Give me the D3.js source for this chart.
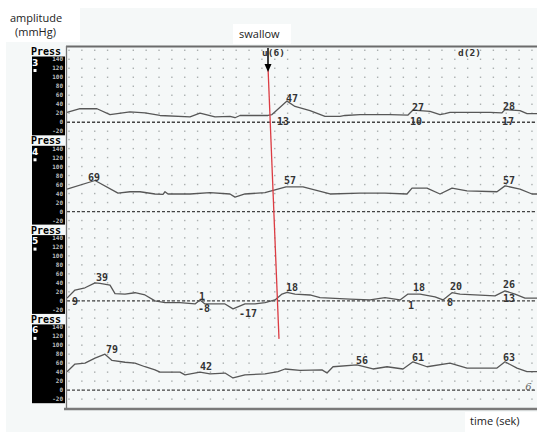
<!DOCTYPE html>
<html>
<head>
<meta charset="utf-8">
<script src="https://cdn.jsdelivr.net/npm/d3@7"></script>
<style>
  body { margin: 0; background: #fff; }
  svg { display: block; }
</style>
</head>
<body>
<svg id="chart" width="550" height="441"></svg>
<script>
// channel numbers and the y ticks printed in the black column
const channels = ["3", "4", "5", "6"];
const yTicks = [140, 120, 100, 80, 60, 40, 20, 0, -20];

// pressure traces, time in sek, pressure in mmHg
const t3 = [0, 1.3, 3.0, 4.3, 6.3, 7.8, 9.3, 12.3, 13.3, 14.8, 16.3, 16.8, 17.3, 20.1, 20.5, 22.0, 22.8, 24.3, 25.8, 27.3, 27.8, 29.3, 32.3, 34.1, 34.6, 36.3, 37.3, 37.8, 38.3, 42.3, 43.5, 43.8, 45.3, 46.0, 47];
const p3 = [22, 30, 30, 17, 23, 21, 15, 12, 20, 12, 13, 10, 15, 15, 17, 47, 35, 26, 13, 13, 15, 17, 17, 16, 27, 24, 17, 19, 22, 22, 21, 28, 26, 19, 19];

const t4 = [0, 2.8, 5.1, 6.3, 7.3, 8.8, 9.6, 9.8, 10.1, 12.3, 14.3, 16.3, 16.8, 17.8, 19.8, 20.8, 21.9, 23.6, 26.3, 29.3, 31.8, 34.0, 34.5, 36.0, 37.3, 38.5, 40.0, 43.0, 43.8, 45.3, 46.5, 47];
const p4 = [50, 69, 41, 44, 44, 39, 38, 44, 39, 39, 42, 39, 32, 39, 42, 48, 55, 55, 39, 41, 41, 39, 52, 52, 39, 52, 46, 44, 57, 50, 39, 39];

const t5 = [0, 0.8, 1.8, 2.8, 3.3, 4.3, 4.8, 5.8, 6.8, 7.8, 8.8, 9.8, 11.3, 12.8, 13.3, 13.8, 15.8, 16.6, 17.8, 18.8, 19.8, 20.8, 21.5, 22.0, 22.8, 24.3, 25.3, 28.3, 30.3, 31.8, 33.3, 34.1, 35.3, 36.8, 37.6, 38.5, 39.3, 42.8, 43.8, 44.8, 45.8, 47];
const p5 = [6, 24, 29, 40, 39, 35, 16, 15, 18, 13, 0, -4, -4, -7, 2, -7, -7, -18, -7, -7, -4, 2, 15, 19, 15, 13, 7, 4, 2, 7, 2, 15, 15, 9, 2, 18, 15, 11, 22, 15, 6, 6];

const t6 = [0, 0.8, 1.8, 2.8, 3.8, 4.5, 5.8, 6.8, 7.8, 8.8, 9.3, 11.3, 11.8, 13.3, 14.3, 15.8, 16.6, 17.8, 19.8, 21.1, 21.8, 23.3, 25.5, 26.0, 26.6, 29.0, 30.6, 32.0, 33.6, 34.6, 36.0, 38.3, 40.0, 43.0, 43.8, 45.0, 46.0, 47];
const p6 = [41, 58, 60, 71, 80, 66, 62, 60, 52, 45, 40, 40, 34, 40, 36, 38, 27, 34, 36, 41, 47, 44, 45, 38, 52, 56, 47, 52, 47, 63, 52, 60, 49, 49, 63, 49, 41, 41];

// printed values: [text, time, mmHg level of the text baseline]
const labels3 = [["47", 22.5, 45], ["13", 21.6, -6], ["27", 35.1, 26], ["10", 34.9, -6], ["28", 44.2, 28], ["17", 44.1, -6]];
const labels4 = [["69", 2.7, 69], ["57", 22.3, 61], ["57", 44.2, 61]];
const labels5 = [["39", 3.5, 43], ["9", 0.8, -9], ["1", 13.5, 2], ["-8", 13.7, -24], ["-17", 18.1, -35], ["18", 22.5, 22], ["18", 35.2, 22], ["1", 34.4, -18], ["20", 38.9, 23], ["8", 38.3, -11], ["26", 44.2, 28], ["13", 44.2, -3]];
const labels6 = [["79", 4.5, 82], ["42", 13.9, 44], ["56", 29.5, 58], ["61", 35.1, 64], ["63", 44.2, 64]];

// swallow marker (time at top of channel 3, time at bottom in channel 6)
const swallowT = [20.1, 21.2];
const swallowP = [123, 114];

const traces = [[t3, p3, labels3], [t4, p4, labels4], [t5, p5, labels5], [t6, p6, labels6]];

const svg = d3.select("#chart");
const plotLeft = 67, plotRight = 537, plotTop = 47, panelH = 89.3;

const x = d3.scaleLinear().domain([0, 47]).range([plotLeft, plotRight]);
const yFor = (i) => d3.scaleLinear()
  .domain([-31.3, 167.3])
  .range([plotTop + (i + 1) * panelH, plotTop + i * panelH]);

// page background
svg.append("rect").attr("width", 550).attr("height", 441).attr("fill", "#fff");
svg.append("rect").attr("x", 6).attr("y", 8).attr("width", 531).attr("height", 424).attr("fill", "#f5f8f8");
svg.append("rect").attr("x", 0).attr("y", 0).attr("width", 80).attr("height", 42).attr("fill", "#fff");
svg.append("rect").attr("x", 233).attr("y", 24).attr("width", 58).attr("height", 20).attr("fill", "#fff");
svg.append("rect").attr("x", 465).attr("y", 412).attr("width", 72).attr("height", 20).attr("fill", "#fff");

const dotX = d3.range(69, 533, 12.86);

traces.forEach(([ts, ps, labs], i) => {
  const y = yFor(i);
  const pTop = plotTop + i * panelH;
  const g = svg.append("g");

  // dotted grid
  d3.range(-20, 161, 20).forEach(v => {
    g.selectAll(null).data(dotX).join("rect")
      .attr("x", d => d - 0.7).attr("y", y(v) - 0.7)
      .attr("width", 1.4).attr("height", 1.4)
      .attr("fill", "#a9aeae");
  });

  // dashed zero line
  g.append("line")
    .attr("x1", plotLeft).attr("x2", plotRight)
    .attr("y1", y(0)).attr("y2", y(0))
    .attr("stroke", "#444").attr("stroke-width", 1.3)
    .attr("stroke-dasharray", "3,2");

  // channel column
  g.append("rect").attr("x", 32).attr("y", pTop + 9.5).attr("width", 33).attr("height", panelH - 10.5).attr("fill", "#000");
  g.append("text").attr("x", 31).attr("y", pTop + 8)
    .attr("font-family", "DejaVu Sans Mono").attr("font-weight", "bold").attr("font-size", 10)
    .attr("fill", "#000").text("Press");
  g.append("text").attr("x", 32).attr("y", pTop + 18.5)
    .attr("font-family", "DejaVu Sans").attr("font-weight", "bold").attr("font-size", 9)
    .attr("fill", "#fff").text(channels[i]);
  g.append("rect").attr("x", 33.5).attr("y", pTop + 22).attr("width", 3).attr("height", 3).attr("fill", "#fff");
  g.selectAll(null).data(yTicks).join("text")
    .attr("x", 63).attr("y", d => y(d) + 2.2)
    .attr("text-anchor", "end")
    .attr("font-family", "DejaVu Sans Mono").attr("font-weight", "bold").attr("font-size", 6)
    .attr("fill", "#bdbdbd").text(d => d);

  // trace
  g.append("path")
    .datum(d3.zip(ts, ps))
    .attr("fill", "none").attr("stroke", "#575757").attr("stroke-width", 1.3)
    .attr("stroke-linejoin", "round")
    .attr("d", d3.line().x(d => x(d[0])).y(d => y(d[1])));

  // value labels
  g.selectAll(null).data(labs).join("text")
    .attr("x", d => x(d[1])).attr("y", d => y(d[2]))
    .attr("text-anchor", "middle")
    .attr("font-family", "DejaVu Sans Mono").attr("font-weight", "bold").attr("font-size", 10)
    .attr("fill", "#333").text(d => d[0]);
});

// frame
svg.append("line").attr("x1", 66).attr("x2", plotRight).attr("y1", 46.5).attr("y2", 46.5)
  .attr("stroke", "#6b6b6b").attr("stroke-width", 2);
svg.append("line").attr("x1", 66.5).attr("x2", 66.5).attr("y1", 46).attr("y2", 409)
  .attr("stroke", "#777").attr("stroke-width", 1.3);
svg.append("line").attr("x1", 64).attr("x2", plotRight).attr("y1", 409).attr("y2", 409)
  .attr("stroke", "#7a7a7a").attr("stroke-width", 2.5);

// trailing "6." on the last channel
const y6 = yFor(3);
svg.append("text").attr("x", x(46.3)).attr("y", y6(0))
  .attr("text-anchor", "middle")
  .attr("font-family", "DejaVu Serif").attr("font-style", "italic").attr("font-size", 10)
  .attr("fill", "#666").text("6.");

// swallow line and arrow
const y3 = yFor(0);
svg.append("line")
  .attr("x1", x(swallowT[0])).attr("y1", y3(swallowP[0]))
  .attr("x2", x(swallowT[1])).attr("y2", y6(swallowP[1]))
  .attr("stroke", "#dc3b42").attr("stroke-width", 1.3);

const ax = x(swallowT[0]);
svg.append("line").attr("x1", ax).attr("x2", ax).attr("y1", 48).attr("y2", 66)
  .attr("stroke", "#000").attr("stroke-width", 1.5);
svg.append("path")
  .attr("d", `M${ax - 3.5},64 L${ax + 3.5},64 L${ax},72 Z`)
  .attr("fill", "#000");

svg.append("text").attr("x", 262).attr("y", 55.5)
  .attr("font-family", "DejaVu Sans Mono").attr("font-weight", "bold").attr("font-size", 9.5)
  .attr("fill", "#333").text("u(6)");
svg.append("text").attr("x", 458).attr("y", 55.5)
  .attr("font-family", "DejaVu Sans Mono").attr("font-weight", "bold").attr("font-size", 9.5)
  .attr("fill", "#333").text("d(2)");

// titles
const title = (tx, ty, s) => svg.append("text").attr("x", tx).attr("y", ty)
  .attr("font-family", "Open Sans").attr("font-size", 11).attr("fill", "#222").text(s);
title(10, 22, "amplitude");
title(15, 36, "(mmHg)");
title(239, 38, "swallow");
title(470, 425, "time (sek)");
</script>
</body>
</html>
